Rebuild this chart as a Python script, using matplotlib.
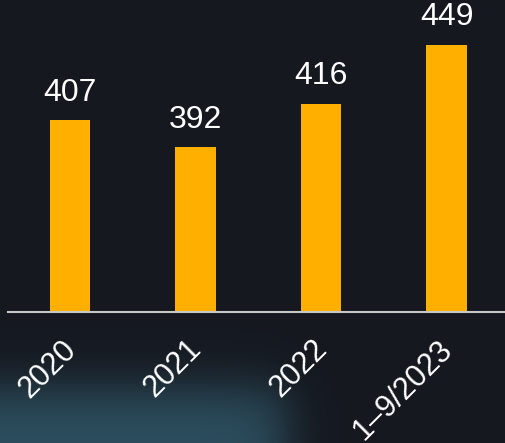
import numpy as np
import matplotlib.pyplot as plt
import matplotlib.transforms as mtransforms

# values
periods = ["2020", "2021", "2022", "1\u20139/2023"]
values = [407, 392, 416, 449]

bg = "#15181f"
bar_color = "#FFAF00"

plt.rcParams['font.family'] = ['Liberation Sans', 'DejaVu Sans']

fig = plt.figure(figsize=(5.05, 4.43), dpi=100)
fig.patch.set_facecolor(bg)

# blurred photo-like backdrop (dark with a teal glow bottom-left)
bg_ax = fig.add_axes([0, 0, 1, 1], zorder=0)
W, H = 505, 443
xx, yy = np.meshgrid(np.arange(W), np.arange(H))
mask = 1 / (1 + np.exp(-(285 - xx) / 14.0)) * 1 / (1 + np.exp(-(yy - 388) / 15.0))
base = np.array([21, 24, 31]) / 255.0
teal = np.array([44, 78, 94]) / 255.0
img = base[None, None, :] * (1 - mask[..., None]) + teal[None, None, :] * mask[..., None]
bg_ax.imshow(img, aspect="auto", extent=[0, W, H, 0])
bg_ax.axis("off")

ax = fig.add_axes([8 / 505, 131 / 443, 497 / 505, 312 / 443], zorder=1)
ax.patch.set_alpha(0)

x = np.arange(len(periods))
bars = ax.bar(x, values, width=0.32, bottom=0, color=bar_color, zorder=2)

ax.set_xlim(-0.494, 3.466)
ax.set_ylim(300, 474)

# value labels above each bar
for xi, v in zip(x, values):
    ax.annotate(str(v), (xi, v), xytext=(0, 9), textcoords="offset points",
                ha="center", va="bottom", color="white", fontsize=23)

for s in ["top", "right", "left"]:
    ax.spines[s].set_visible(False)
ax.spines["bottom"].set_color("#c8c8c8")
ax.spines["bottom"].set_linewidth(1.5)
ax.set_yticks([])
ax.set_xticks(x)
ax.set_xticklabels(periods, rotation=45, ha="right", va="top",
                   rotation_mode="anchor", color="white", fontsize=22)
ax.tick_params(axis="x", length=0, pad=16)
shift = mtransforms.ScaledTranslation(-9 / 100, 0, fig.dpi_scale_trans)
for lab in ax.get_xticklabels():
    lab.set_transform(lab.get_transform() + shift)

fig.savefig("out.png", dpi=100, facecolor=bg)
